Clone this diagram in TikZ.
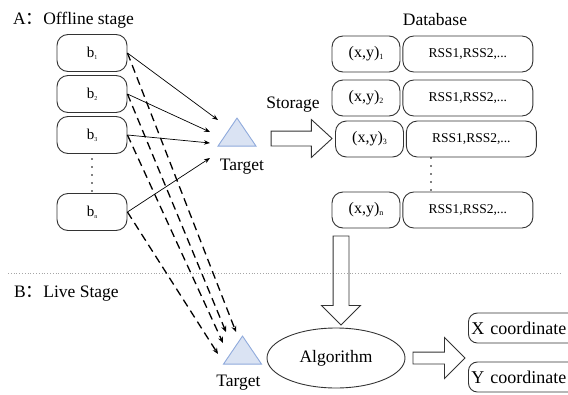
\documentclass[tikz,border=0pt]{standalone}
\usepackage{fontspec}
\setmainfont[Ligatures=CommonOff]{Liberation Serif}
\newfontfamily\cjk{Noto Sans CJK SC}
\usetikzlibrary{shapes.geometric,shapes.arrows,arrows.meta,positioning}
\definecolor{trifill}{HTML}{DAE3F3}
\definecolor{triedge}{HTML}{8FAADC}
\newcommand\lowsub[2][7]{\raisebox{-.25ex}{\fontsize{#1}{#1}\selectfont#2}}
\begin{document}
\begin{tikzpicture}[x=1pt,y=-1pt,
    box/.style={draw=black!80,line width=.9pt,rounded corners=11pt,minimum width=70pt,minimum height=37pt,inner sep=0pt},
    tri/.style={isosceles triangle,isosceles triangle stretches,shape border rotate=90,minimum width=38pt,minimum height=28pt,inner sep=0pt,draw=triedge,fill=trifill,line width=.9pt},
    bigarrow/.style={single arrow,draw=black!80,line width=.9pt,inner xsep=0pt,single arrow head indent=0pt},
    lbl/.style={font=\fontsize{17.5}{20}\selectfont,inner sep=0pt},
    sig/.style={-{Stealth[length=6pt,width=4.5pt]},line width=.7pt},
    dsig/.style={-{Stealth[length=6pt,width=5pt]},line width=1.3pt,dash pattern=on 8pt off 5pt},
    dots/.style={line width=1.8pt,line cap=round,dash pattern=on 0pt off 8pt}]
    \useasboundingbox (0,0) rectangle (568,394);
    \node[lbl,anchor=base west] (stageA) at (13,24) {A{\cjk ：}Offline stage};
    \node[lbl,anchor=base west] (stageB) at (14,297) {B{\cjk ：}Live Stage};
    \foreach \n/\y in {1/53,2/94,3/135,n/212}
    \node[box,font=\fontsize{15}{17}\selectfont] (b\n) at (92,\y) {b\lowsub[6]{\n}};
    \draw[dots,shorten <=5pt,shorten >=2pt] (b3.south) -- (bn.north);
    \node[tri] (tgtA) at (237,136) {};
    \node[lbl,anchor=base] (tgtAl) at (242,170) {Target};
    \coordinate (h1) at (218,120);
    \coordinate (h2) at (210,132);
    \coordinate (h3) at (210,143);
    \coordinate (h4) at (210,158);
    \foreach \s/\t in {b1/h1,b2/h2,b3/h3,bn/h4}
    \draw[sig] (\s.east) -- (\t);
    \node[bigarrow,minimum height=61pt,inner ysep=7pt,single arrow head extend=11.5pt,single arrow tip angle=85] (store) at (297.5,138.5) {};
    \node[lbl,anchor=base] (storel) at (293,108) {Storage};
    \node[lbl,anchor=base] (dbl) at (435,25) {Database};
    \foreach \r/\y/\dx in {1/54/0,2/98/0,3/139/3.5,n/210/0} {
        \node[box,minimum width=68pt,minimum height=36pt,font=\fontsize{16}{18}\selectfont] (xy\r) at (366+\dx,\y) {(x,y)\lowsub[8]{\r}};
        \node[box,minimum width=130pt,minimum height=36pt,right=2pt of xy\r,font=\fontsize{13.5}{15}\selectfont] (rss\r) {RSS1,RSS2,...};
    }
    \draw[dots] (431,158) -- (431,190);
    \draw[gray!70,line width=.8pt,dash pattern=on .8pt off 2pt] (8,273) -- (560,273);
    \node[bigarrow,rotate=-90,minimum height=89pt,inner ysep=7.5pt,single arrow head extend=11.5pt] (down) at (341,276.5) {};
    \node[tri] (tgtB) at (242.5,354) {};
    \node[lbl,anchor=base] (tgtBl) at (238.5,386) {Target};
    \coordinate (d1) at (236,332);
    \coordinate (d2) at (226,332);
    \coordinate (d3) at (223,343);
    \coordinate (d4) at (218,354);
    \foreach \s/\t in {b1/d1,b2/d2,b3/d3,bn/d4}
    \draw[dsig] (\s.east) -- (\t);
    \node[ellipse,draw=black!80,line width=.9pt,minimum width=138pt,minimum height=60pt,inner sep=0pt,lbl] (alg) at (336,358) {Algorithm};
    \node[bigarrow,minimum height=52pt,inner ysep=5.5pt,single arrow head extend=14.5pt] (res) at (436,358) {};
    \node[box,rounded corners=9pt,anchor=west,minimum height=30pt,inner xsep=3pt,text width=104pt,align=left,font=\fontsize{18}{20}\selectfont] (xc) at (468,328) {X coordinate};
    \node[box,rounded corners=9pt,anchor=west,minimum height=30pt,inner xsep=3pt,text width=104pt,align=left,font=\fontsize{18}{20}\selectfont] (yc) at (468,377) {Y coordinate};
\end{tikzpicture}
\end{document}
